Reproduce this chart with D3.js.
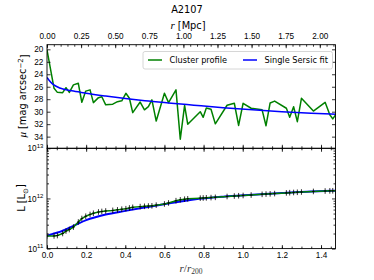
<!DOCTYPE html>
<html lang="en">
<head>
  <meta charset="UTF-8">
  <title>A2107 profile</title>
  <script src="https://d3js.org/d3.v7.min.js"></script>
  <style>
    body { margin: 0; background: #fff; }
    svg { display: block; font-family: "DejaVu Sans", sans-serif; }
    .tick text { font-size: 8.2px; fill: #000; }
    .tick line { stroke: #000; stroke-width: 0.8; }
  </style>
</head>
<body>
  <svg id="chart" width="374" height="280"></svg>

  <script>
    // radius of each profile point, in units of r200
    const profileR = [0.0, 0.036, 0.053, 0.080, 0.097, 0.114, 0.135, 0.160, 0.178, 0.198,
      0.220, 0.237, 0.263, 0.280, 0.300, 0.336, 0.360, 0.382, 0.403, 0.421,
      0.438, 0.476, 0.498, 0.518, 0.536, 0.558, 0.600, 0.621, 0.659, 0.681,
      0.703, 0.719, 0.783, 0.798, 0.814, 0.838, 0.860, 0.920, 0.957, 0.979,
      1.002, 1.043, 1.099, 1.119, 1.140, 1.163, 1.223, 1.240, 1.260, 1.279,
      1.300, 1.361, 1.421, 1.445, 1.460, 1.477];
    // surface brightness (mag arcsec^-2)
    const profileMu = [20.1, 26.25, 26.9, 26.95, 26.15, 26.9, 25.7, 25.45, 28.5, 26.7,
      26.5, 28.55, 27.75, 27.6, 28.9, 28.8, 28.4, 28.25, 27.05, 27.85,
      30.15, 28.45, 29.7, 29.2, 28.1, 31.5, 27.05, 28.55, 26.5, 34.4,
      29.0, 32.0, 30.0, 30.9, 29.4, 29.6, 31.95, 28.97, 28.65, 32.2,
      28.65, 29.45, 29.7, 32.25, 28.6, 28.3, 29.45, 30.9, 29.2, 31.6,
      27.85, 29.9, 28.5, 30.5, 31.15, 30.4];
    // cumulative luminosity (Lsun)
    const profileL = [1.79e11, 1.79e11, 1.82e11, 2.00e11, 2.24e11, 2.40e11, 2.69e11, 3.39e11, 3.98e11, 4.42e11,
      4.79e11, 5.07e11, 5.37e11, 5.50e11, 5.62e11, 5.78e11, 5.92e11, 6.10e11, 6.24e11, 6.46e11,
      6.65e11, 6.87e11, 6.97e11, 7.06e11, 7.13e11, 7.35e11, 7.76e11, 8.13e11, 9.02e11, 9.38e11,
      9.66e11, 9.82e11, 1.014e12, 1.021e12, 1.028e12, 1.040e12, 1.052e12, 1.094e12, 1.117e12, 1.132e12,
      1.146e12, 1.169e12, 1.208e12, 1.222e12, 1.236e12, 1.250e12, 1.291e12, 1.303e12, 1.315e12, 1.327e12,
      1.343e12, 1.380e12, 1.406e12, 1.416e12, 1.422e12, 1.429e12];

    // single Sersic fit
    const sersicR = [0, 0.02, 0.035, 0.065, 0.135, 0.2, 0.3, 0.4, 0.5, 0.62, 0.75, 0.9, 1.05, 1.2, 1.35, 1.477];
    const sersicMu = [24.5, 25.3, 25.7, 26.2, 26.7, 27.05, 27.5, 27.9, 28.25, 28.6, 28.95, 29.35, 29.7, 30.0, 30.25, 30.4];
    const sersicL = [1.79e11, 1.91e11, 2.00e11, 2.16e11, 2.83e11, 3.69e11, 4.79e11, 5.65e11, 6.61e11, 7.94e11,
      9.55e11, 1.084e12, 1.180e12, 1.279e12, 1.374e12, 1.429e12];

    // ticks
    const xTicks = [0.0, 0.2, 0.4, 0.6, 0.8, 1.0, 1.2, 1.4];
    const xMinorTicks = d3.range(0, 1.47, 0.05);
    const mpcTicks = [0.00, 0.25, 0.50, 0.75, 1.00, 1.25, 1.50, 1.75, 2.00];
    const mpcMinorTicks = d3.range(0, 2.11, 0.05);
    const muTicks = [20, 22, 24, 26, 28, 30, 32, 34];
    const lTicks = [1e11, 1e12, 1e13];
    const lMinorTicks = [2e11, 3e11, 4e11, 5e11, 6e11, 7e11, 8e11, 9e11, 2e12, 3e12, 4e12, 5e12, 6e12, 7e12, 8e12, 9e12];

    const r200Mpc = 1.435;
    const xMax = 1.474;

    const left = 47, right = 335.5;
    const top1 = 44.7, bot1 = 148.3, top2 = 148.3, bot2 = 248.6;

    const green = "#008000", blue = "#0000ff";

    const svg = d3.select("#chart");
    svg.append("rect").attr("width", 374).attr("height", 280).attr("fill", "#fff");

    const x = d3.scaleLinear().domain([0, xMax]).range([left, right]);
    const xMpc = d3.scaleLinear().domain([0, xMax * r200Mpc]).range([left, right]);
    const yMu = d3.scaleLinear().domain([19.26, 35.87]).range([top1, bot1]);
    const yL = d3.scaleLog().domain([1e11, 1e13]).range([bot2, top2]);

    function tickAxis(axisFn, scale, values, size, transform, fmt, pad) {
      const g = svg.append("g").attr("transform", transform);
      const ax = axisFn(scale).tickValues(values).tickSizeInner(size).tickSizeOuter(0)
        .tickPadding(pad || 3).tickFormat(fmt || (() => ""));
      g.call(ax);
      g.select(".domain").remove();
      return g;
    }

    svg.append("clipPath").attr("id", "clip1")
      .append("rect").attr("x", left).attr("y", top1).attr("width", right - left).attr("height", bot1 - top1);
    svg.append("clipPath").attr("id", "clip2")
      .append("rect").attr("x", left).attr("y", top2).attr("width", right - left).attr("height", bot2 - top2);

    // top panel: surface brightness
    const p1 = svg.append("g").attr("clip-path", "url(#clip1)");
    p1.append("path")
      .datum(profileR.map((r, i) => [r, profileMu[i]]))
      .attr("fill", "none").attr("stroke", green).attr("stroke-width", 1.5)
      .attr("stroke-linejoin", "round")
      .attr("d", d3.line().x(d => x(d[0])).y(d => yMu(d[1])));
    p1.append("path")
      .datum(sersicR.map((r, i) => [r, sersicMu[i]]))
      .attr("fill", "none").attr("stroke", blue).attr("stroke-width", 1.5)
      .attr("d", d3.line().curve(d3.curveMonotoneX).x(d => x(d[0])).y(d => yMu(d[1])));

    // bottom panel: cumulative luminosity
    const p2 = svg.append("g").attr("clip-path", "url(#clip2)");
    p2.append("path")
      .datum(sersicR.map((r, i) => [r, sersicL[i]]))
      .attr("fill", "none").attr("stroke", blue).attr("stroke-width", 2)
      .attr("d", d3.line().curve(d3.curveMonotoneX).x(d => x(d[0])).y(d => yL(d[1])));
    p2.append("path")
      .datum(profileR.map((r, i) => [r, profileL[i]]))
      .attr("fill", "none").attr("stroke", green).attr("stroke-width", 1.5)
      .attr("d", d3.line().x(d => x(d[0])).y(d => yL(d[1])));
    const marks = p2.selectAll(".mk").data(profileR.map((r, i) => [r, profileL[i]]))
      .enter().append("g").attr("class", "mk")
      .attr("transform", d => `translate(${x(d[0])},${yL(d[1])})`);
    marks.append("line").attr("y1", -2.8).attr("y2", 2.8).attr("stroke", "#000").attr("stroke-width", 0.8);
    marks.append("line").attr("x1", -1.3).attr("x2", 1.3).attr("stroke", "#000").attr("stroke-width", 0.8);

    // ticks, top panel
    tickAxis(d3.axisLeft, yMu, muTicks, -3.5, `translate(${left},0)`, d3.format("d"), 3.7);
    tickAxis(d3.axisRight, yMu, muTicks, -3.5, `translate(${right},0)`);
    tickAxis(d3.axisTop, xMpc, mpcTicks, -3.5, `translate(0,${top1})`, d3.format(".2f"), 5.7);
    tickAxis(d3.axisTop, xMpc, mpcMinorTicks, -2, `translate(0,${top1})`);
    tickAxis(d3.axisBottom, x, xTicks, -3.5, `translate(0,${bot1})`);
    tickAxis(d3.axisBottom, x, xMinorTicks, -2, `translate(0,${bot1})`);

    // ticks, bottom panel
    const lAxis = tickAxis(d3.axisLeft, yL, lTicks, -3.5, `translate(${left},0)`, () => "10", 3.7);
    lAxis.selectAll(".tick text").append("tspan")
      .attr("dy", "-0.55em").attr("font-size", "6px")
      .text(d => Math.round(Math.log10(d)));
    tickAxis(d3.axisLeft, yL, lMinorTicks, -2, `translate(${left},0)`);
    tickAxis(d3.axisRight, yL, lTicks, -3.5, `translate(${right},0)`);
    tickAxis(d3.axisRight, yL, lMinorTicks, -2, `translate(${right},0)`);
    tickAxis(d3.axisTop, x, xTicks, -3.5, `translate(0,${top2})`);
    tickAxis(d3.axisTop, x, xMinorTicks, -2, `translate(0,${top2})`);
    tickAxis(d3.axisBottom, x, xTicks, -3.5, `translate(0,${bot2})`, d3.format(".1f"), 4);
    tickAxis(d3.axisBottom, x, xMinorTicks, -2, `translate(0,${bot2})`);

    // spines
    [[top1, bot1], [top2, bot2]].forEach(([a, b]) => {
      svg.append("rect").attr("x", left).attr("y", a).attr("width", right - left).attr("height", b - a)
        .attr("fill", "none").attr("stroke", "#000").attr("stroke-width", 0.9);
    });

    // legend
    const lg = svg.append("g");
    lg.append("rect").attr("x", 143).attr("y", 51.5).attr("width", 189.5).attr("height", 17.5)
      .attr("rx", 2).attr("fill", "#fff").attr("fill-opacity", 0.8).attr("stroke", "#ccc").attr("stroke-width", 0.8);
    [["Cluster profile", green, 148], ["Single Sersic fit", blue, 243]].forEach(([t, c, lx]) => {
      lg.append("line").attr("x1", lx).attr("x2", lx + 14).attr("y1", 60).attr("y2", 60)
        .attr("stroke", c).attr("stroke-width", 1.5);
      lg.append("text").attr("x", lx + 21.5).attr("y", 60).attr("dy", "0.35em")
        .attr("font-size", "8.2px").text(t);
    });

    // titles and labels
    svg.append("text").attr("x", 187).attr("y", 9.3).attr("dy", "0.35em")
      .attr("text-anchor", "middle").attr("font-size", "9.8px").text("A2107");

    const topLab = svg.append("text").attr("x", 188).attr("y", 26).attr("dy", "0.35em")
      .attr("text-anchor", "middle").attr("font-size", "9.8px");
    topLab.append("tspan").attr("font-family", "Liberation Serif, serif").attr("font-style", "italic")
      .attr("font-size", "11px").text("r");
    topLab.append("tspan").text(" [Mpc]");

    const muLab = svg.append("text").attr("transform", "translate(23,96) rotate(-90)")
      .attr("dy", "0.35em").attr("text-anchor", "middle").attr("font-size", "9.8px");
    muLab.append("tspan").attr("font-family", "Liberation Serif, serif").attr("font-style", "italic")
      .attr("font-size", "11px").text("μ");
    muLab.append("tspan").text(" [mag arcsec");
    muLab.append("tspan").attr("dy", "-0.5em").attr("font-size", "7px").text("−2");
    muLab.append("tspan").attr("dy", "0.5em").text("]");

    const lLab = svg.append("text").attr("transform", "translate(22,198) rotate(-90)")
      .attr("dy", "0.35em").attr("text-anchor", "middle").attr("font-size", "9.8px");
    lLab.append("tspan").text("L [L");
    lLab.append("tspan").attr("dy", "0.35em").attr("font-size", "7px").text("⊙");
    lLab.append("tspan").attr("dy", "-0.35em").text("]");

    const xLab = svg.append("text").attr("x", 191).attr("y", 268).attr("dy", "0.35em")
      .attr("text-anchor", "middle").attr("font-family", "Liberation Serif, serif")
      .attr("font-size", "11px").attr("fill", "#333");
    xLab.append("tspan").attr("font-style", "italic").text("r");
    xLab.append("tspan").text("/");
    xLab.append("tspan").attr("font-style", "italic").text("r");
    xLab.append("tspan").attr("dy", "0.3em").attr("font-size", "7.5px").text("200");
  </script>
</body>
</html>
